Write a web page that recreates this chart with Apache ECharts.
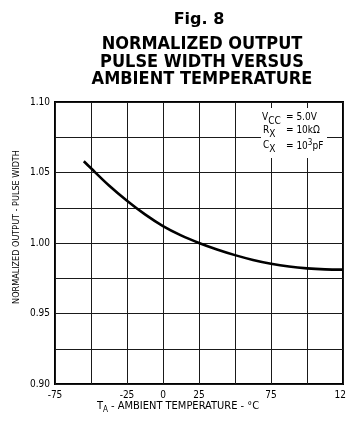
<!DOCTYPE html>
<html>
<head>
<meta charset="utf-8">
<script src="https://cdn.jsdelivr.net/npm/echarts@6/dist/echarts.min.js"></script>
<style>html,body{margin:0;padding:0;background:#fff}#c{width:346px;height:433px}</style>
</head>
<body>
<div id="c"></div>
<script>
// Temperature (°C) and normalized output pulse width
var temperatures = [-55, -50, -37.5, -25, -12.5, 0, 12.5, 25, 37.5, 50, 62.5, 75, 87.5, 100, 112.5, 125];
var pulseWidth   = [1.058, 1.053, 1.0408, 1.030, 1.0203, 1.012, 1.0054, 1.000, 0.9954, 0.9914, 0.9880, 0.9853, 0.9833, 0.9820, 0.9813, 0.9811];
var xTickLabels = ['-75', '-25', '0', '25', '75', '125'];
var yTickLabels = ['0.90', '0.95', '1.00', '1.05', '1.10'];

var COND = '"DejaVu Sans Condensed", "Liberation Sans Narrow", "DejaVu Sans", sans-serif';

var chart = echarts.init(document.getElementById('c'), null, {renderer: 'canvas'});
var option = {
  backgroundColor: '#fff',
  animation: false,
  title: [
    {text: 'Fig. 8', left: 194, top: 7, textAlign: 'center',
     textStyle: {fontFamily: '"DejaVu Sans", sans-serif', fontWeight: 'bold', fontSize: 16, lineHeight: 16, color: '#000'}},
    {text: 'NORMALIZED OUTPUT\nPULSE WIDTH VERSUS\nAMBIENT TEMPERATURE', left: 197, top: 31, textAlign: 'center',
     textStyle: {fontFamily: COND, fontWeight: 'bold', fontSize: 18, lineHeight: 17.5, color: '#000'}}
  ],
  grid: {left: 55, right: 3, top: 102, bottom: 49, containLabel: false, outerBoundsMode: 'none',
         show: true, borderColor: '#000', borderWidth: 2, backgroundColor: 'transparent'},
  xAxis: {
    type: 'value', min: -75, max: 125, interval: 25,
    axisLine: {show: false}, axisTick: {show: false},
    splitLine: {show: true, lineStyle: {color: '#1a1a1a', width: 1}},
    axisLabel: {
      margin: 6, color: '#000', fontFamily: COND, fontSize: 10,
      formatter: function (v) { var s = String(v); return xTickLabels.indexOf(s) >= 0 ? s : ''; }
    }
  },
  yAxis: {
    type: 'value', min: 0.9, max: 1.1, interval: 0.025,
    axisLine: {show: false}, axisTick: {show: false},
    splitLine: {show: true, lineStyle: {color: '#1a1a1a', width: 1}},
    axisLabel: {
      margin: 5, color: '#000', fontFamily: COND, fontSize: 10,
      formatter: function (v) { var s = v.toFixed(2); return yTickLabels.indexOf(s) >= 0 && Math.abs(v * 20 - Math.round(v * 20)) < 1e-6 ? s : ''; }
    }
  },
  series: [{
    type: 'line',
    data: temperatures.map(function (t, i) { return [t, pulseWidth[i]]; }),
    smooth: 0.3,
    showSymbol: false,
    lineStyle: {color: '#000', width: 2.6},
    z: 5
  }],
  graphic: [
    {type: 'rect', z: 10, shape: {x: 261, y: 108, width: 66, height: 50}, style: {fill: '#fff'}},
    {type: 'text', z: 11, x: 262, y: 117, style: {
      text: 'V{s|CC}', verticalAlign: 'middle', fill: '#000', font: '10px ' + COND,
      rich: {s: {fontSize: 10, fontFamily: COND, padding: [8, 0, 0, 0], fill: '#000'}}}},
    {type: 'text', z: 11, x: 263, y: 130, style: {
      text: 'R{s|X}', verticalAlign: 'middle', fill: '#000', font: '10px ' + COND,
      rich: {s: {fontSize: 10, fontFamily: COND, padding: [8, 0, 0, 0], fill: '#000'}}}},
    {type: 'text', z: 11, x: 263, y: 145, style: {
      text: 'C{s|X}', verticalAlign: 'middle', fill: '#000', font: '10px ' + COND,
      rich: {s: {fontSize: 10, fontFamily: COND, padding: [8, 0, 0, 0], fill: '#000'}}}},
    {type: 'text', z: 11, x: 286, y: 117, style: {text: '= 5.0V', verticalAlign: 'middle', fill: '#000', font: '10px ' + COND}},
    {type: 'text', z: 11, x: 286, y: 130, style: {text: '= 10kΩ', verticalAlign: 'middle', fill: '#000', font: '10px ' + COND}},
    {type: 'text', z: 11, x: 286, y: 146, style: {
      text: '= 10{p|3}pF', verticalAlign: 'middle', fill: '#000', font: '10px ' + COND,
      rich: {p: {fontSize: 8, fontFamily: COND, padding: [0, 0, 7, 0], fill: '#000'}}}},
    {type: 'text', z: 11, x: 178, y: 406, style: {
      text: 'T{s|A} - AMBIENT TEMPERATURE - °C', align: 'center', verticalAlign: 'middle', fill: '#000', font: '11px ' + COND,
      rich: {s: {fontSize: 8, fontFamily: COND, padding: [7, 0, 0, 0], fill: '#000'}}}},
    {type: 'text', z: 11, x: 17, y: 227, rotation: Math.PI / 2, style: {
      text: 'NORMALIZED OUTPUT - PULSE WIDTH', align: 'center', verticalAlign: 'middle', fill: '#000', font: '9px ' + COND}}
  ]
};
chart.setOption(option);
</script>
</body>
</html>
